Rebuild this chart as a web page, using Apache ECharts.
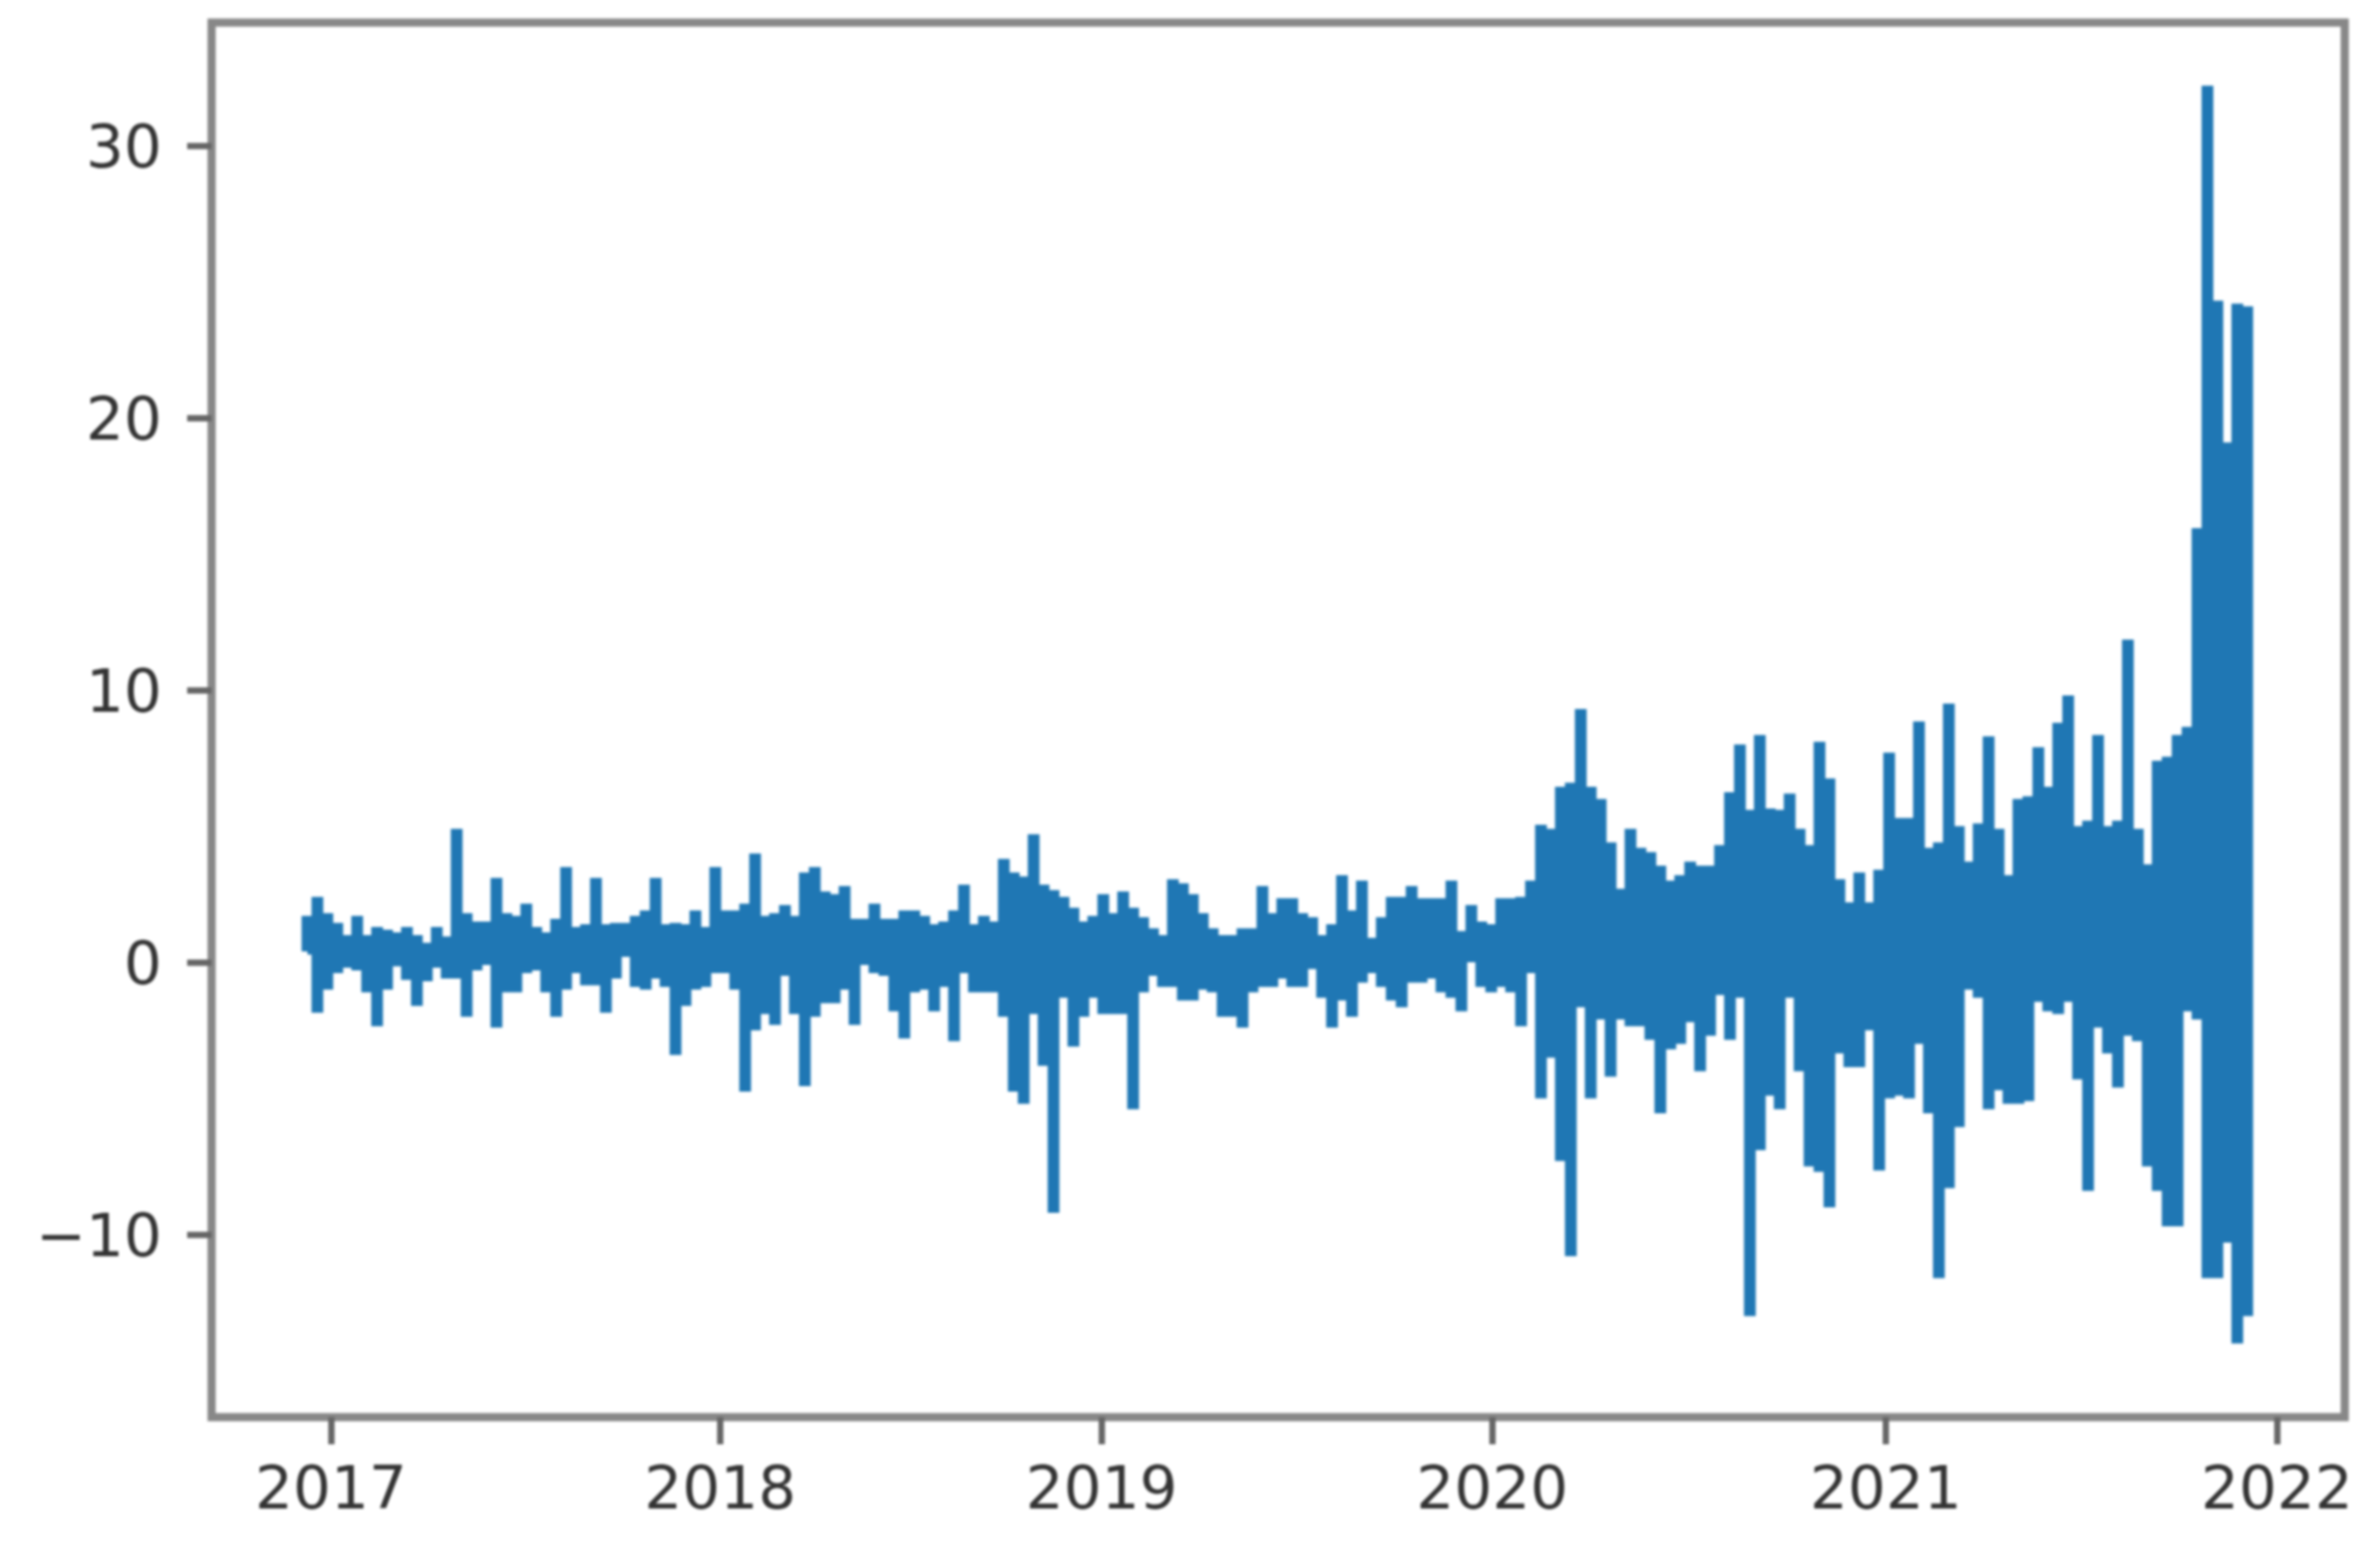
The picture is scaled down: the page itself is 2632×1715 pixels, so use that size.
<!DOCTYPE html>
<html>
<head>
<meta charset="utf-8">
<style>html,body{margin:0;padding:0;background:#fff}#c{width:2632px;height:1715px;filter:blur(1.6px)}</style>
<script src="https://cdn.jsdelivr.net/npm/echarts@6/dist/echarts.min.js"></script>
</head>
<body>
<div id="c"></div>
<script>
const startYear = 2016.9396;
const stepYears = 0.02556;
const baseline = 0.5;
const xTicks = [2017,2018,2018.98,2019.984,2020.995,2022];
const yTicks = [-10,0,10,20,30];
const highs = [
1.7,2.4,1.8,1.45,1.0,1.7,1.0,1.3,1.2,1.1,1.3,1.0,0.6,1.3,0.95,4.9,1.8,1.5,1.5,3.1,1.8,1.7,2.15,1.3,1.1,1.6,3.5,1.3,1.4,3.1,1.4,1.45,1.45,1.7,1.9,3.1,1.4,1.45,1.4,1.9,1.3,3.5,1.9,1.9,2.15,4.0,1.7,1.8,2.1,1.7,3.3,3.5,2.6,2.5,2.8,1.6,1.6,2.15,1.6,1.6,1.9,1.9,1.7,
1.4,1.5,1.9,2.85,1.4,1.7,1.5,3.8,3.3,3.15,4.7,2.85,2.65,2.4,2.0,1.5,1.7,2.5,1.8,2.6,2.0,1.65,1.25,1.0,3.05,2.9,2.5,1.8,1.25,1.0,1.0,1.25,1.25,2.8,1.8,2.35,2.35,1.8,1.65,1.0,1.4,3.2,1.9,3.0,0.9,1.65,2.4,2.4,2.8,2.35,2.35,2.35,3.0,1.15,2.1,1.5,1.4,2.35,2.35,2.4,3.0,5.05,4.9,6.45,6.6,9.3,6.45,6.0,4.4,2.7,
4.9,4.2,4.05,3.55,3.0,3.2,3.7,3.55,3.55,4.3,6.25,8.0,5.6,8.35,5.65,5.6,6.2,4.9,4.3,8.1,6.75,3.05,2.2,3.3,2.2,3.4,7.7,5.3,5.3,8.85,4.2,4.4,9.5,5.0,3.7,5.1,8.3,4.9,3.2,6.0,6.1,
7.9,6.45,8.8,9.8,5.0,5.2,8.35,5.0,5.2,11.85,4.9,3.6,7.4,7.55,8.35,8.65,15.95,32.2,24.3,19.1,24.2,24.1
];
const lows = [
0.4,-1.85,-1.0,-0.4,-0.2,-0.3,-1.1,-2.35,-1.0,-0.15,-0.65,-1.6,-0.7,-0.2,-0.6,-0.6,-2.0,-0.3,-0.1,-2.4,-1.1,-1.1,-0.4,-0.3,-1.1,-2.0,-1.0,-0.4,-0.85,-0.85,-1.85,-0.6,0.2,-0.9,-1.0,-0.6,-0.9,-3.4,-1.6,-1.0,-0.9,-0.4,-0.4,-1.0,-4.75,-2.5,-1.9,-2.3,-0.5,-1.9,-4.55,-2.0,-1.5,-1.5,-1.0,-2.3,-0.1,-0.4,-0.5,-1.8,-2.8,-1.1,-1.0,
-1.8,-0.9,-2.9,-0.4,-1.1,-1.1,-1.1,-2.0,-4.75,-5.2,-1.9,-3.8,-9.2,-1.3,-3.1,-2.0,-1.3,-1.9,-1.9,-1.9,-5.4,-1.1,-0.5,-0.9,-0.9,-1.4,-1.4,-1.0,-1.1,-2.0,-2.0,-2.4,-1.1,-0.9,-0.9,-0.6,-0.9,-0.9,-0.25,-1.3,-2.4,-1.4,-2.0,-0.75,-0.4,-0.9,-1.4,-1.65,-0.75,-0.75,-0.6,-1.1,-1.3,-1.8,0.0,-0.9,-1.1,-0.9,-1.1,-2.35,-0.4,-5.0,-3.5,-7.3,-10.8,-1.65,-5.0,-2.1,-4.2,-2.1,
-2.35,-2.35,-2.85,-5.55,-3.2,-3.0,-2.2,-4.0,-2.7,-1.2,-2.85,-1.3,-13.0,-6.9,-4.9,-5.4,-1.3,-4.0,-7.5,-7.7,-9.0,-3.35,-3.85,-3.85,-2.5,-7.65,-5.0,-4.9,-5.0,-3.0,-5.55,-11.6,-8.3,-6.05,-1.0,-1.3,-5.4,-4.7,-5.2,-5.2,-5.1,
-1.45,-1.8,-1.9,-1.45,-4.3,-8.4,-2.4,-3.35,-4.6,-2.7,-2.9,-7.5,-8.4,-9.7,-9.7,-1.8,-2.1,-11.6,-11.6,-10.3,-14.0,-13.0
];

const path = [];
highs.forEach((h, i) => {
  const t = startYear + i * stepYears;
  path.push([t, baseline], [t, h], [t, lows[i]], [t, baseline]);
});

const chart = echarts.init(document.getElementById('c'), null, {renderer:'canvas'});
chart.setOption({
  animation:false,
  backgroundColor:'#fff',
  grid:{left:234,top:25,width:2359,height:1542,show:true,borderColor:'#888888',borderWidth:9,backgroundColor:'#fff'},
  xAxis:{
    type:'value',
    min:2016.6933, max:2022.1743,
    axisLine:{show:false,onZero:false},
    splitLine:{show:false},
    axisTick:{show:true,length:30,lineStyle:{color:'#666666',width:7},customValues:xTicks},
    axisLabel:{margin:51,fontFamily:'DejaVu Sans',fontSize:66,color:'#333333',customValues:xTicks,
      formatter:v=>String(Math.round(v))}
  },
  yAxis:{
    type:'value',min:-16.71,max:34.52,
    axisLine:{show:false,onZero:false},
    splitLine:{show:false},
    axisTick:{show:true,length:27,lineStyle:{color:'#666666',width:7},customValues:yTicks},
    axisLabel:{margin:55,fontFamily:'DejaVu Sans',fontSize:66,color:'#333333',customValues:yTicks,verticalAlign:'top',lineHeight:13,
      formatter:v=>String(v).replace('-','\u2212')}
  },
  series:[{
    type:'line',data:path,showSymbol:false,symbol:'none',
    lineStyle:{color:'#1f77b4',width:13,join:'miter',miterLimit:2,cap:'butt'},
    clip:true,z:3
  }]
});
</script>
</body>
</html>
